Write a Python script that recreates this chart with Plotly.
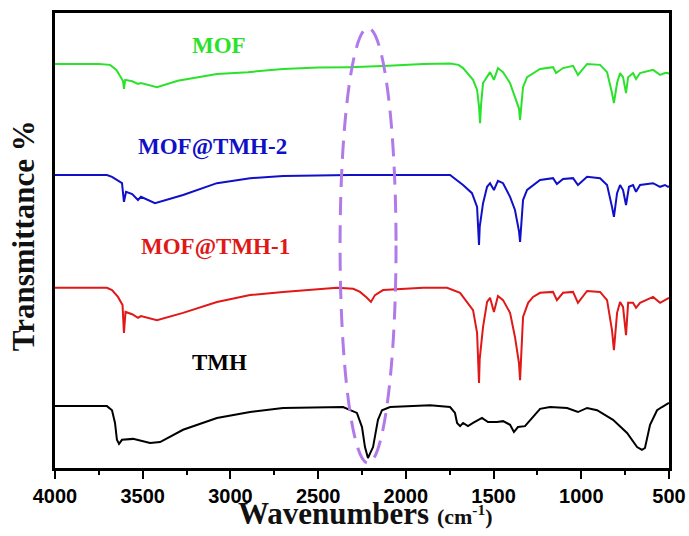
import plotly.graph_objects as go

# ---------------- data ----------------
mof_wn = [4000, 3750, 3686, 3650, 3625, 3612, 3607, 3600, 3560, 3527, 3510, 3419, 3300, 3200, 3077, 2900, 2700, 2500, 2318, 2100,
          1900, 1748, 1700, 1674, 1617, 1594, 1583, 1577, 1571, 1560, 1520, 1498, 1475, 1446, 1406, 1378, 1355, 1349, 1343, 1332,
          1309, 1235, 1161, 1144, 1104, 1047, 1019, 967, 893, 853, 825, 814, 796, 779, 762, 745, 733, 705, 688, 665,
          591, 551, 523, 506, 500]
mof_t = [88.8, 88.8, 88.6, 87.5, 85.9, 85.0, 83.3, 85.3, 85.0, 84.4, 84.6, 83.7, 85.1, 85.8, 86.6, 87.0, 87.7, 88.0, 88.1, 88.4,
         88.8, 88.9, 88.6, 87.9, 85.3, 83.1, 79.5, 75.8, 80.0, 84.6, 87.0, 85.3, 87.9, 87.0, 84.6, 81.5, 79.0, 76.5, 79.5, 83.7,
         85.9, 87.7, 88.1, 86.8, 87.9, 88.4, 86.4, 88.8, 88.6, 87.0, 82.4, 80.2, 84.6, 86.8, 85.9, 82.4, 85.9, 86.8, 85.5, 86.8,
         87.5, 86.4, 86.8, 86.8, 86.6]

tmh2_wn = [4000, 3704, 3675, 3618, 3607, 3595, 3560, 3527, 3510, 3430, 3270, 3077, 2888, 2700, 2318, 1748, 1674, 1623, 1594, 1587,
           1583, 1579, 1560, 1537, 1520, 1498, 1475, 1446, 1406, 1378, 1355, 1349, 1343, 1332, 1309, 1235, 1161, 1139, 1104, 1047,
           1019, 967, 893, 853, 825, 814, 796, 779, 762, 745, 728, 705, 688, 665, 591, 551, 523, 506, 500]
tmh2_t = [64.4, 64.4, 64.0, 62.6, 58.5, 60.7, 60.2, 58.9, 59.6, 58.2, 60.0, 62.6, 63.7, 64.2, 64.4, 64.4, 62.2, 60.4, 57.4, 53.0,
          49.0, 53.0, 58.2, 61.8, 62.6, 61.1, 63.1, 62.6, 59.6, 56.7, 52.0, 49.7, 53.0, 58.9, 61.1, 63.3, 63.7, 62.4, 63.5, 63.7,
          62.2, 64.0, 63.7, 62.2, 57.4, 55.2, 60.4, 62.2, 61.1, 57.8, 61.8, 62.2, 60.7, 62.2, 62.6, 61.8, 62.2, 61.8, 62.0]

tmh1_wn = [4000, 3704, 3675, 3641, 3615, 3607, 3598, 3560, 3527, 3510, 3419, 3270, 3077, 2888, 2700, 2393, 2300, 2261, 2222, 2199,
           2176, 2130, 1900, 1765, 1691, 1634, 1617, 1594, 1587, 1583, 1579, 1560, 1537, 1520, 1498, 1475, 1446, 1406, 1378, 1355,
           1349, 1343, 1332, 1303, 1275, 1235, 1161, 1139, 1104, 1047, 1019, 967, 893, 853, 825, 814, 796, 779, 762, 745,
           733, 705, 688, 665, 591, 551, 523, 506, 500]
tmh1_t = [39.6, 39.6, 39.1, 37.6, 35.8, 29.7, 34.3, 33.8, 33.0, 33.4, 32.5, 34.1, 36.5, 38.0, 38.7, 39.6, 39.4, 38.7, 37.4, 36.5,
          38.0, 39.1, 39.6, 39.6, 38.5, 35.4, 34.7, 29.7, 24.0, 18.7, 24.0, 31.0, 36.5, 37.4, 34.3, 37.8, 36.9, 34.1, 28.8, 23.0,
          19.3, 24.0, 33.2, 36.3, 37.6, 38.5, 38.7, 36.9, 38.5, 38.7, 36.3, 38.9, 38.7, 36.9, 30.3, 25.9, 34.1, 36.5, 35.4, 29.2,
          36.3, 36.3, 35.2, 36.3, 37.6, 36.3, 36.9, 37.4, 37.4]

tmh_wn = [4000, 3704, 3675, 3658, 3647, 3635, 3618, 3555, 3458, 3401, 3270, 3077, 2888, 2700, 2358, 2318, 2279, 2250, 2233, 2216,
          2187, 2159, 2136, 2090, 1862, 1748, 1720, 1708, 1691, 1674, 1646, 1617, 1566, 1532, 1480, 1446, 1406, 1384, 1361, 1321,
          1281, 1235, 1178, 1081, 1019, 967, 910, 819, 739, 682, 654, 637, 608, 568, 540, 506, 500]
tmh_t = [13.6, 13.6, 12.7, 9.9, 6.2, 5.3, 6.2, 6.4, 5.5, 5.7, 8.4, 11.0, 12.3, 13.2, 13.4, 12.7, 12.1, 9.0, 4.6, 2.2,
         4.6, 10.6, 12.7, 13.4, 13.8, 13.4, 12.1, 9.9, 9.2, 9.9, 9.2, 9.9, 11.0, 10.1, 10.1, 10.3, 9.5, 7.9, 9.0, 9.2,
         11.0, 13.0, 13.4, 13.2, 12.3, 13.2, 12.7, 10.6, 7.7, 4.6, 4.0, 4.4, 9.5, 12.7, 13.4, 14.1, 14.3]

series_names = ["MOF", "MOF@TMH-2", "MOF@TMH-1", "TMH"]
series_colors = ["#2be22b", "#1010c8", "#e01818", "#000000"]
label_pos_wn = [3065, 3100, 3085, 3060]
label_pos_t = [92.8, 70.6, 48.6, 23.1]

x_tick_vals = [4000, 3500, 3000, 2500, 2000, 1500, 1000, 500]

# highlighted region (dashed ellipse)
ellipse_wn = [2375, 2056]
ellipse_t = [1.1, 96.7]

# ---------------- figure ----------------
fig = go.Figure()
for wn, t, name, col in zip([mof_wn, tmh2_wn, tmh1_wn, tmh_wn], [mof_t, tmh2_t, tmh1_t, tmh_t], series_names, series_colors):
    fig.add_trace(go.Scatter(x=wn, y=t, mode="lines", name=name,
                             line=dict(color=col, width=2), showlegend=False))

for name, col, xw, yt in zip(series_names, series_colors, label_pos_wn, label_pos_t):
    fig.add_annotation(x=xw, y=yt, xref="x", yref="y", text="<b>%s</b>" % name, showarrow=False,
                       font=dict(family="Liberation Serif", size=23, color=col))

fig.add_shape(type="circle", xref="x", yref="y",
              x0=ellipse_wn[0], x1=ellipse_wn[1], y0=ellipse_t[0], y1=ellipse_t[1],
              line=dict(color="#b07ae8", width=3, dash="18px,10px"))

fig.add_annotation(xref="paper", yref="paper", x=-0.05, y=0.51, textangle=-90, showarrow=False,
                   xanchor="center", yanchor="middle",
                   text="<b>Transmittance %</b>",
                   font=dict(family="Liberation Serif", size=31, color="#111111"))
fig.add_annotation(xref="paper", yref="paper", x=0.505, y=-0.1, showarrow=False,
                   xanchor="center", yanchor="middle",
                   text="<b>Wavenumbers </b><span style='font-size:22px'><b>(cm<sup>-1</sup>)</b></span>",
                   font=dict(family="Liberation Serif", size=31, color="#111111"))

fig.update_xaxes(range=[4000, 500], tickvals=x_tick_vals, ticktext=[str(v) for v in x_tick_vals],
                 automargin=False,
                 showline=True, linecolor="black", linewidth=2.5, mirror=True,
                 ticks="outside", ticklen=8, tickwidth=2, tickcolor="black",
                 minor=dict(ticks="outside", ticklen=4, tickwidth=2, tickcolor="black", dtick=250, tick0=500),
                 showgrid=False, zeroline=False,
                 tickfont=dict(family="Liberation Sans", size=20, color="black", weight="bold"))
fig.update_yaxes(range=[0, 100], automargin=False, showline=True, linecolor="black", linewidth=2.5, mirror=True,
                 showticklabels=False, ticks="", showgrid=False, zeroline=False)

fig.update_layout(width=689, height=536, margin=dict(l=55, r=20, t=13, b=68),
                  plot_bgcolor="white", paper_bgcolor="white")

fig.write_html("out.html", config={"displayModeBar": False},
               post_script="document.body.style.margin='0px';")
